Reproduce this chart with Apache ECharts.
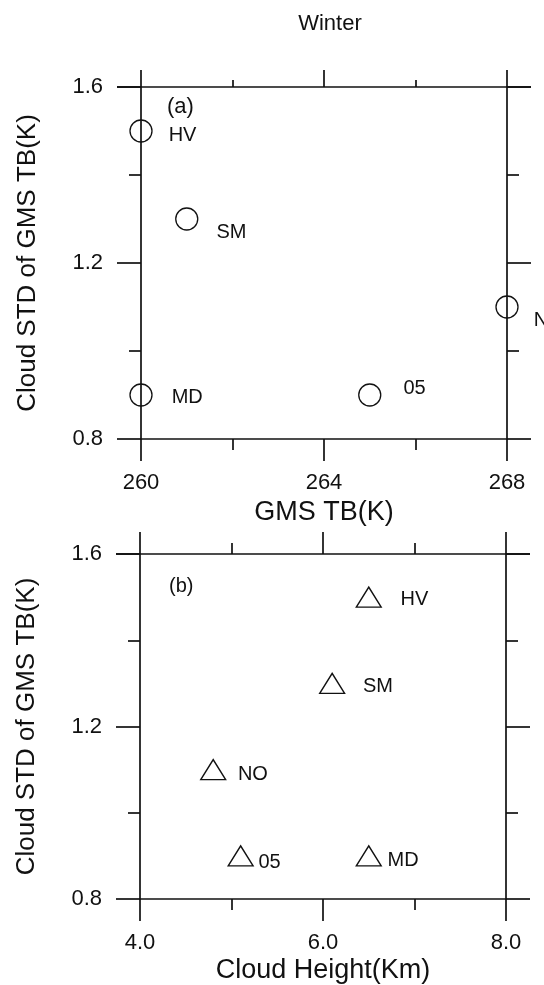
<!DOCTYPE html>
<html>
<head>
<meta charset="utf-8">
<script src="https://cdn.jsdelivr.net/npm/echarts@6/dist/echarts.min.js"></script>
<style>
html,body{margin:0;padding:0;background:#fff;}
#c{width:544px;height:985px;}
</style>
</head>
<body>
<div id="c"></div>
<script>
// ---- data ----
const namesA = ['HV', 'SM', 'MD', '05', 'NO'];
const tbA = [260, 261, 260, 265, 268];
const stdA = [1.5, 1.3, 0.9, 0.9, 1.1];

const namesB = ['HV', 'SM', 'NO', '05', 'MD'];
const heightB = [6.5, 6.1, 4.8, 5.1, 6.5];
const stdB = [1.5, 1.3, 1.1, 0.9, 0.9];

const yTicks = [0.8, 1.2, 1.6];
const xTicksA = [260, 264, 268];
const xTicksB = [4.0, 6.0, 8.0];

// ---- styles (label nudges: left edge and vertical centre relative to marker centre) ----
const nudgeA = [[27, 4], [29, 13], [30, 2], [33, -7], [26, 13]];
const nudgeB = [[31, 2], [30, 3], [24, 5], [17, 7], [18, 5]];

const FONT = 'Liberation Sans, Arial, sans-serif';
const INK = '#111';
const LW = 1.7;

function mkData(xs, ys, names, nudges, w) {
  return xs.map((x, i) => ({
    value: [x, ys[i]],
    name: names[i],
    label: { offset: [nudges[i][0] - w / 2, nudges[i][1]] }
  }));
}

function xAxes(gridIndex, ticks, fmt, name, nameGap, topMajor, topMinor) {
  const min = ticks[0], max = ticks[ticks.length - 1], interval = ticks[1] - ticks[0];
  return [
    {
      type: 'value', gridIndex, position: 'bottom', min, max, interval,
      name, nameLocation: 'middle', nameGap,
      nameTextStyle: { fontFamily: FONT, fontSize: 27, color: INK },
      axisLine: { show: true, lineStyle: { color: INK, width: LW } },
      axisTick: { show: true, inside: false, length: 22, lineStyle: { color: INK, width: LW } },
      minorTick: { show: true, splitNumber: 2, length: 11, lineStyle: { color: INK, width: LW } },
      axisLabel: { show: true, margin: 33, fontFamily: FONT, fontSize: 22, color: INK, formatter: fmt },
      splitLine: { show: false }, minorSplitLine: { show: false }
    },
    {
      type: 'value', gridIndex, position: 'top', min, max, interval,
      axisLine: { show: true, lineStyle: { color: INK, width: LW } },
      axisTick: { show: true, inside: false, length: topMajor, lineStyle: { color: INK, width: LW } },
      minorTick: { show: true, splitNumber: 2, length: topMinor, lineStyle: { color: INK, width: LW } },
      axisLabel: { show: false },
      splitLine: { show: false }, minorSplitLine: { show: false }
    }
  ];
}

function yAxes(gridIndex, name) {
  const min = yTicks[0], max = yTicks[yTicks.length - 1], interval = yTicks[1] - yTicks[0];
  return [
    {
      type: 'value', gridIndex, position: 'left', min, max, interval,
      name, nameLocation: 'middle', nameGap: 100,
      nameTextStyle: { fontFamily: FONT, fontSize: 26, color: INK },
      axisLine: { show: true, lineStyle: { color: INK, width: LW } },
      axisTick: { show: true, inside: false, length: 24, lineStyle: { color: INK, width: LW } },
      minorTick: { show: true, splitNumber: 2, length: 12, lineStyle: { color: INK, width: LW } },
      axisLabel: { show: true, margin: 38, fontFamily: FONT, fontSize: 22, color: INK, formatter: v => v.toFixed(1) },
      splitLine: { show: false }, minorSplitLine: { show: false }
    },
    {
      type: 'value', gridIndex, position: 'right', min, max, interval,
      axisLine: { show: true, lineStyle: { color: INK, width: LW } },
      axisTick: { show: true, inside: false, length: 24, lineStyle: { color: INK, width: LW } },
      minorTick: { show: true, splitNumber: 2, length: 12, lineStyle: { color: INK, width: LW } },
      axisLabel: { show: false },
      splitLine: { show: false }, minorSplitLine: { show: false }
    }
  ];
}

const labelBase = {
  show: true, position: 'right', distance: 0,
  formatter: p => p.name,
  fontFamily: FONT, fontSize: 20, color: INK, align: 'left', verticalAlign: 'middle'
};

const option = {
  backgroundColor: '#fff',
  animation: false,
  title: [
    { text: 'Winter', left: 325, top: 8, textAlign: 'center',
      textStyle: { fontFamily: FONT, fontSize: 22, fontWeight: 'normal', color: INK } },
    { text: '(a)', left: 162, top: 91,
      textStyle: { fontFamily: FONT, fontSize: 22, fontWeight: 'normal', color: INK } },
    { text: '(b)', left: 164, top: 571,
      textStyle: { fontFamily: FONT, fontSize: 20, fontWeight: 'normal', color: INK } }
  ],
  grid: [
    { left: 141, top: 87, width: 366, height: 352 },
    { left: 140, top: 554, width: 366, height: 346 }
  ],
  xAxis: [
    ...xAxes(0, xTicksA, v => String(v), 'GMS TB(K)', 60, 17, 7),
    ...xAxes(1, xTicksB, v => v.toFixed(1), 'Cloud Height(Km)', 58, 22, 11)
  ],
  yAxis: [
    ...yAxes(0, 'Cloud STD of GMS TB(K)'),
    ...yAxes(1, 'Cloud STD of GMS TB(K)')
  ],
  series: [
    {
      type: 'scatter', xAxisIndex: 0, yAxisIndex: 0, clip: false,
      symbol: 'circle', symbolSize: 22,
      itemStyle: { color: 'rgba(255,255,255,0)', borderColor: INK, borderWidth: 1.3, opacity: 1 },
      label: labelBase,
      emphasis: { disabled: true },
      data: mkData(tbA, stdA, namesA, nudgeA, 22)
    },
    {
      type: 'scatter', xAxisIndex: 2, yAxisIndex: 2, clip: false,
      symbol: 'triangle', symbolSize: [25, 20],
      itemStyle: { color: 'rgba(255,255,255,0)', borderColor: INK, borderWidth: 1.3, opacity: 1 },
      label: labelBase,
      emphasis: { disabled: true },
      data: mkData(heightB, stdB, namesB, nudgeB, 25)
    }
  ]
};

const chart = echarts.init(document.getElementById('c'), null, { renderer: 'canvas' });
chart.setOption(option);
</script>
</body>
</html>
